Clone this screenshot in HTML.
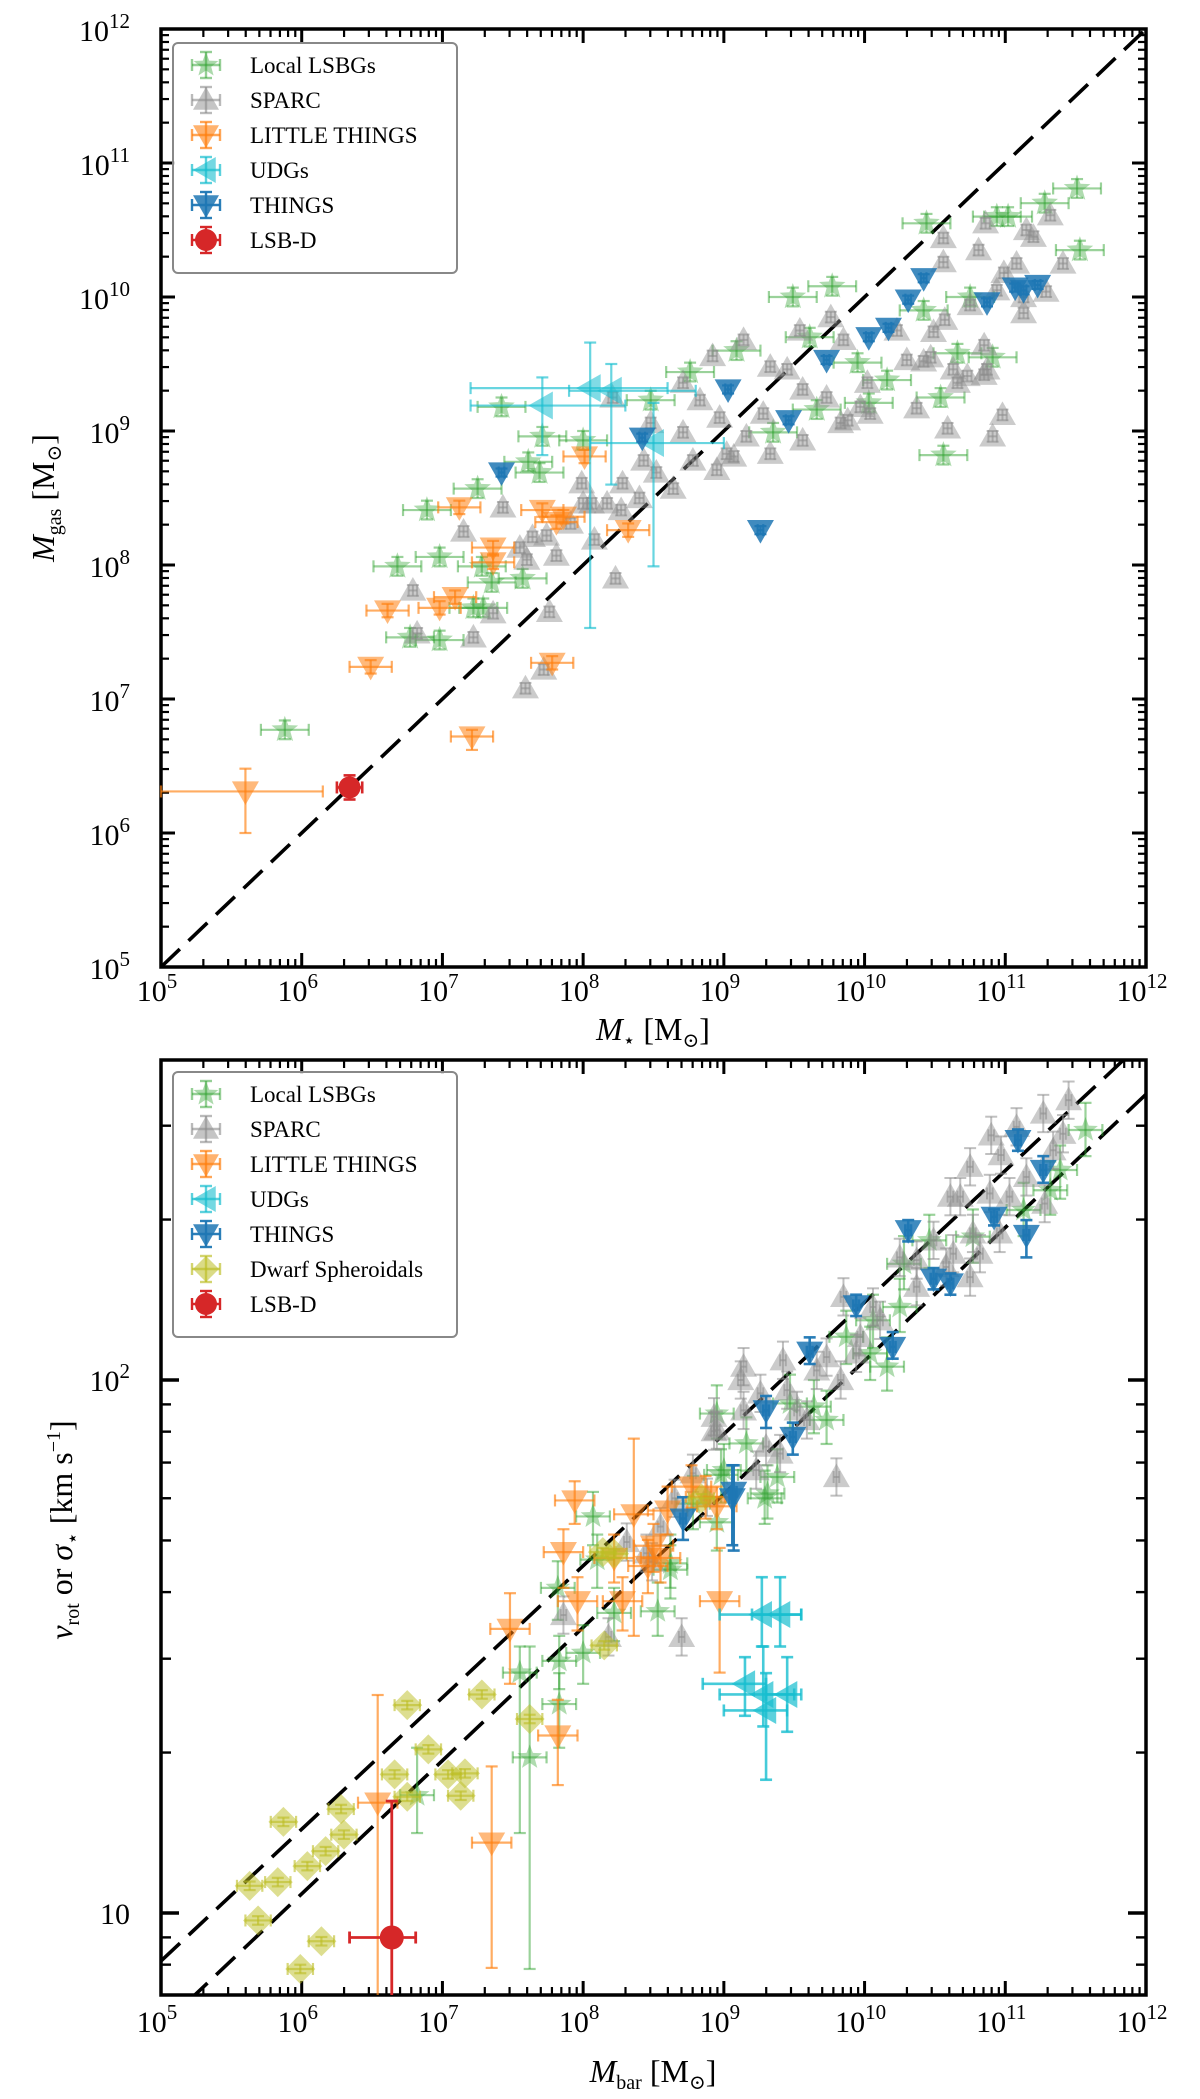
<!DOCTYPE html>
<html><head><meta charset="utf-8"><style>
html,body{margin:0;padding:0;background:#fff;}
svg{display:block;font-family:"Liberation Serif","DejaVu Serif",serif;}
</style></head><body>
<svg id="fig" xmlns="http://www.w3.org/2000/svg" width="1200" height="2099" viewBox="0 0 1200 2099">
<rect x="0" y="0" width="1200" height="2099" fill="#fff"/>
<g id="top"></g>
<g id="bot"></g>
</svg>
<script>
// ===== TOP PANEL DATA (log10 values) =====
const topLsbX=[5.88,6.89,7.25,6.68,6.98,7.28,7.35,7.57,7.22,7.29,6.77,6.98,7.42,7.71,7.61,7.69,8.00,8.48,8.76,9.09,9.49,9.77,10.44,10.94,11.02,11.28,11.51,11.53,10.56,10.16,10.03,9.95,9.66,9.35,10.66,10.91,10.54,10.42,10.75,9.61];
const topLsbY=[6.77,8.41,8.57,7.99,8.06,7.99,7.87,7.90,7.68,7.68,7.46,7.44,9.18,8.96,8.77,8.69,8.93,9.23,9.44,9.60,10.00,10.08,10.55,10.60,10.60,10.70,10.81,10.35,8.82,9.38,9.21,9.51,9.16,8.99,9.58,9.55,9.25,9.90,10.00,9.70];
const topSparcX=[7.59,7.72,7.22,7.36,7.76,6.79,6.82,8.23,7.15,7.43,7.55,7.64,7.74,7.81,7.91,8.08,7.99,8.00,8.06,8.17,8.28,8.27,8.40,8.43,8.48,8.21,7.60,8.64,8.95,9.07,9.33,9.56,9.88,10.04,10.37,10.59,10.91,10.98,11.13,11.29,11.41,11.32,11.20,10.86,10.81,10.56,10.56,10.75,10.57,10.49,10.30,10.42,10.63,10.73,10.87,10.85,10.99,11.08,11.15,10.23,9.97,9.83,9.76,9.54,9.85,9.14,8.92,8.71,8.83,8.71,8.97,9.16,9.33,9.45,9.28,9.02,8.78,8.52,9.56,9.73,10.02,10.47,10.66,10.85,11.13,10.94];
const topSparcY=[7.08,7.22,7.46,7.64,7.65,7.81,7.49,7.90,8.25,8.43,8.13,8.21,8.22,8.07,8.31,8.19,8.61,8.46,8.46,8.46,8.61,8.41,8.50,8.78,9.06,9.25,8.04,8.57,8.71,8.81,8.83,8.93,9.08,9.13,9.17,9.02,8.96,9.12,9.88,10.04,10.25,10.61,10.45,10.55,10.35,10.44,10.26,9.94,9.83,9.74,9.53,9.52,9.46,9.41,9.46,9.64,10.18,10.25,10.50,9.75,9.18,9.06,9.85,9.75,9.68,9.68,9.56,9.36,9.23,8.99,9.10,8.96,9.48,9.46,9.13,8.83,8.78,8.69,9.31,9.25,9.36,9.55,9.36,9.42,10.00,10.05];
const topLtX=[5.60,6.49,6.61,6.98,7.09,7.12,7.36,7.36,7.71,7.86,7.81,8.01,8.32,7.78,7.21];
const topLtY=[6.31,7.24,7.66,7.68,7.76,8.43,8.13,8.02,8.41,8.36,8.32,8.81,8.26,7.27,6.72];
const topLtXlo=[5.00,6.34,6.46,6.83,6.94,6.97,7.21,7.21,7.56,7.71,7.66,7.86,8.17,7.63,7.06];
const topLtXhi=[6.15,6.64,6.76,7.13,7.24,7.27,7.51,7.51,7.86,8.01,7.96,8.16,8.47,7.93,7.36];
const topLtYlo=[6.00,7.19,7.61,7.63,7.71,8.38,8.08,7.97,8.36,8.31,8.27,8.76,8.21,7.22,6.62];
const topLtYhi=[6.48,7.29,7.71,7.73,7.81,8.48,8.18,8.07,8.46,8.41,8.37,8.86,8.31,7.32,6.77];
const topUdgX=[7.71,8.05,8.20,8.50];
const topUdgY=[9.19,9.32,9.30,8.91];
const topUdgXlo=[7.20,7.20,7.90,8.05];
const topUdgXhi=[8.30,8.60,8.80,9.00];
const topUdgYlo=[8.82,7.53,8.60,7.99];
const topUdgYhi=[9.40,9.66,9.50,9.21];
const topThX=[7.42,8.42,9.03,9.46,9.26,9.73,10.03,10.17,10.31,10.42,10.87,11.07,11.13,11.23];
const topThY=[8.69,8.95,9.31,9.08,8.26,9.53,9.70,9.77,9.98,10.14,9.96,10.07,10.05,10.09];
const topLsbdX=[6.34];
const topLsbdY=[6.34];
const topXTicks=[5,6,7,8,9,10,11,12];
const topYTicks=[5,6,7,8,9,10,11,12];
const topTickLabels=["5","6","7","8","9","10","11","12"];

// ===== BOTTOM PANEL DATA (log10 values) =====
const botLsbX=[11.57,11.39,11.32,11.13,10.77,10.28,10.25,10.06,9.87,10.04,10.16,9.73,9.64,9.38,9.31,8.95,9.00,8.62,8.78,9.47,9.16,10.46,8.07,7.82,8.00,7.83,7.83,7.55,7.62,6.82,8.10,8.22,8.53,8.62,8.98,9.29,8.95];
const botLsbY=[2.469,2.394,2.356,2.319,2.269,2.218,2.137,2.112,2.081,2.050,2.025,1.925,1.950,1.818,1.787,1.937,1.831,1.656,1.768,1.956,1.881,2.262,1.744,1.610,1.488,1.473,1.392,1.451,1.292,1.221,1.663,1.563,1.566,1.644,1.822,1.778,1.733];
const botLsbYlo=[2.42,2.34,2.31,2.27,2.22,2.17,2.09,2.06,2.03,2.00,1.98,1.88,1.90,1.77,1.74,1.89,1.78,1.61,1.72,1.91,1.83,2.21,1.69,1.55,1.43,1.42,1.31,1.15,0.895,1.15,1.61,1.51,1.52,1.59,1.77,1.73,1.68];
const botLsbYhi=[2.52,2.44,2.41,2.37,2.32,2.27,2.19,2.16,2.13,2.10,2.08,1.98,2.00,1.87,1.84,1.99,1.88,1.71,1.82,2.01,1.93,2.31,1.79,1.66,1.54,1.52,1.45,1.50,1.50,1.31,1.71,1.61,1.62,1.69,1.87,1.83,1.78];
const botSparcX=[11.45,11.27,11.08,10.90,10.97,10.75,10.61,10.68,10.89,11.03,11.15,11.28,11.34,11.41,10.96,10.77,10.63,10.49,10.37,10.37,10.75,10.82,10.58,9.85,10.06,10.11,9.97,9.73,9.66,9.83,9.14,9.42,9.45,9.26,9.14,8.93,8.95,9.30,9.40,9.23,9.52,9.59,9.80,8.78,8.55,8.45,8.88,9.94,10.25,8.93,8.31,8.49,7.86,8.70,8.18,9.12,8.65];
const botSparcY=[2.525,2.500,2.475,2.459,2.422,2.400,2.344,2.344,2.350,2.344,2.381,2.331,2.431,2.462,2.275,2.275,2.237,2.262,2.225,2.175,2.193,2.237,2.212,2.156,2.137,2.112,2.081,2.043,2.018,2.000,2.025,2.037,1.981,1.975,1.943,1.931,1.906,1.875,1.862,1.831,1.943,1.925,1.818,1.825,1.725,1.675,1.780,2.050,2.230,1.904,1.696,1.659,1.559,1.518,1.518,2.000,1.778];
const botLtX=[6.54,7.35,7.48,7.82,7.86,7.94,7.96,8.22,8.28,8.36,8.50,8.55,8.60,8.77,8.87,8.95,8.97,8.46];
const botLtY=[1.207,1.132,1.533,1.333,1.677,1.774,1.585,1.666,1.585,1.748,1.689,1.666,1.755,1.800,1.781,1.763,1.585,1.651];
const botLtYlo=[0.80,0.897,1.43,1.24,1.61,1.73,1.53,1.62,1.53,1.52,1.64,1.62,1.71,1.76,1.74,1.72,1.451,1.60];
const botLtYhi=[1.409,1.275,1.60,1.40,1.72,1.81,1.63,1.71,1.63,1.89,1.73,1.71,1.80,1.84,1.82,1.80,1.685,1.70];
const botUdgX=[9.27,9.40,9.15,9.28,9.30,9.45];
const botUdgY=[1.56,1.56,1.43,1.41,1.38,1.41];
const botUdgXlo=[8.97,9.20,8.85,8.97,9.00,9.30];
const botUdgXhi=[9.55,9.55,9.30,9.50,9.45,9.55];
const botUdgYlo=[1.50,1.50,1.37,1.35,1.25,1.34];
const botUdgYhi=[1.63,1.63,1.48,1.50,1.45,1.48];
const botThX=[8.71,9.06,9.07,9.49,9.30,9.61,9.94,10.20,10.31,10.49,10.61,10.92,11.15,11.09,11.27];
const botThY=[1.740,1.778,1.790,1.893,1.943,2.053,2.140,2.062,2.281,2.190,2.181,2.306,2.272,2.450,2.394];
const botThYlo=[1.70,1.69,1.68,1.86,1.91,2.03,2.12,2.04,2.26,2.17,2.16,2.29,2.23,2.43,2.37];
const botThYhi=[1.78,1.84,1.84,1.92,1.97,2.08,2.16,2.09,2.30,2.21,2.20,2.32,2.30,2.47,2.42];
const botDsphX=[5.63,5.83,5.69,5.87,5.99,6.14,6.04,6.17,6.30,6.28,6.66,6.75,6.75,6.90,7.04,7.16,7.13,7.28,7.62,8.15,8.14,8.22,8.84];
const botDsphY=[1.051,1.058,0.986,1.171,0.895,0.947,1.088,1.116,1.147,1.195,1.260,1.218,1.390,1.307,1.260,1.262,1.220,1.410,1.364,1.502,1.677,1.674,1.778];
const botLsbdX=[6.64];
const botLsbdY=[0.954];
const botLsbdXlo=[6.34];
const botLsbdXhi=[6.81];
const botLsbdYlo=[0.70];
const botLsbdYhi=[1.21];
const botXTicks=[5,6,7,8,9,10,11,12];
const botYMajor=[1,2];
const botYMajorLabels=["10","10²"];
const btfrUpperX=[5,12];
const btfrUpperY=[0.91,2.64];
const btfrLowerX=[5,12];
const btfrLowerY=[0.786,2.536];

// ===== GEOMETRY =====
const NS="http://www.w3.org/2000/svg";
const X0=161,X1=1146;
const xs=l=>X0+(l-5)*(X1-X0)/7;
const TT=29,TB=967;
const yT=l=>TB-(l-5)*(TB-TT)/7;
const BT=1060,BB=1995;
const yB=l=>1913-(l-1)*533;
const C={green:"#2ca02c",gray:"#8c8c8c",orange:"#ff7f0e",cyan:"#17becf",blue:"#1f77b4",olive:"#bcbd22",red:"#d62728"};

function el(tag,parent,attrs){const e=document.createElementNS(NS,tag);for(const k in attrs)e.setAttribute(k,attrs[k]);parent.appendChild(e);return e;}

function markerPath(type,cx,cy,s){
  if(type==="star"){let p="";for(let i=0;i<10;i++){const r=i%2?s*0.42:s;const a=-Math.PI/2+i*Math.PI/5;p+=(i?"L":"M")+(cx+r*Math.cos(a)).toFixed(1)+","+(cy+r*Math.sin(a)).toFixed(1);}return p+"Z";}
  if(type==="up")return `M${cx},${cy-s}L${cx+s},${cy+s*0.75}L${cx-s},${cy+s*0.75}Z`;
  if(type==="down")return `M${cx},${cy+s}L${cx+s},${cy-s*0.75}L${cx-s},${cy-s*0.75}Z`;
  if(type==="left")return `M${cx-s},${cy}L${cx+s*0.75},${cy-s}L${cx+s*0.75},${cy+s}Z`;
  if(type==="diamond")return `M${cx},${cy-s}L${cx+s},${cy}L${cx},${cy+s}L${cx-s},${cy}Z`;
  return "";
}

function drawPoint(g,type,color,op,size,cx,cy,ex0,ex1,ey0,ey1,elw,cap){
  const pg=el("g",g,{});
  
  
  const st={stroke:color,"stroke-width":elw,"stroke-opacity":Math.min(1,op+0.1)};
  if(ex0!==null&&ex1!==null&&(ex1-ex0)>0.5){el("line",pg,Object.assign({x1:ex0,y1:cy,x2:ex1,y2:cy},st));el("line",pg,Object.assign({x1:ex0,y1:cy-cap,x2:ex0,y2:cy+cap},st));el("line",pg,Object.assign({x1:ex1,y1:cy-cap,x2:ex1,y2:cy+cap},st));}
  if(ey0!==null&&ey1!==null&&Math.abs(ey1-ey0)>0.5){el("line",pg,Object.assign({x1:cx,y1:ey0,x2:cx,y2:ey1},st));el("line",pg,Object.assign({x1:cx-cap,y1:ey0,x2:cx+cap,y2:ey0},st));el("line",pg,Object.assign({x1:cx-cap,y1:ey1,x2:cx+cap,y2:ey1},st));}
  if(type==="circle")el("circle",pg,{cx:cx,cy:cy,r:size,fill:color,"fill-opacity":op});
  else el("path",pg,{d:markerPath(type,cx,cy,size),fill:color,"fill-opacity":op});
}

function series(parent,name,type,color,op,size,X,Y,yf,o){
  const g=el("g",parent,{});
  
  
  for(let i=0;i<X.length;i++){
    const cx=xs(X[i]),cy=yf(Y[i]);
    const xl=o.xlo?o.xlo[i]:X[i]-o.dx, xh=o.xhi?o.xhi[i]:X[i]+o.dx;
    const yl=o.ylo?o.ylo[i]:Y[i]-o.dy, yh=o.yhi?o.yhi[i]:Y[i]+o.dy;
    drawPoint(g,type,color,op,size,cx,cy,xs(Math.max(5,xl)),xs(Math.min(12,xh)),yf(yl),yf(yh),o.lw||2.2,o.cap||6);
  }
}

function axesFrame(g,top,bot,name){
  const r=el("rect",g,{x:X0,y:top,width:X1-X0,height:bot-top,fill:"none",stroke:"#000","stroke-width":3.5});
  
  
}
function xTicks(g,top,bot,ticks,labelY,nameP){
  for(const d of ticks){
    const x=xs(d);
    el("line",g,{x1:x,y1:bot,x2:x,y2:bot-14,stroke:"#000","stroke-width":3});
    el("line",g,{x1:x,y1:top,x2:x,y2:top+14,stroke:"#000","stroke-width":3});
    const t=el("text",g,{x:x-4,y:labelY,"font-size":30,"text-anchor":"middle"});
    
    
    t.textContent="10";
    const s=el("tspan",t,{dy:-13,"font-size":21});s.textContent=String(d);
    if(d<12)for(let m=2;m<10;m++){const xm=xs(d+Math.log10(m));
      el("line",g,{x1:xm,y1:bot,x2:xm,y2:bot-8,stroke:"#000","stroke-width":2.2});
      el("line",g,{x1:xm,y1:top,x2:xm,y2:top+8,stroke:"#000","stroke-width":2.2});}
  }
}

// ===== TOP PANEL =====
const T=document.getElementById("top");
axesFrame(T,TT,TB,"top-plot-area");
xTicks(T,TT,TB,topXTicks,1001,"x-axis");
for(let i=0;i<topYTicks.length;i++){
  const d=topYTicks[i],y=yT(d);
  el("line",T,{x1:X0,y1:y,x2:X0+14,y2:y,stroke:"#000","stroke-width":3});
  el("line",T,{x1:X1,y1:y,x2:X1-14,y2:y,stroke:"#000","stroke-width":3});
  const t=el("text",T,{x:130,y:y+12,"font-size":30,"text-anchor":"end"});
  
  
  t.textContent="10";
  const s=el("tspan",t,{dy:-13,"font-size":21});s.textContent=topTickLabels[i];
  if(d<12)for(let m=2;m<10;m++){const ym=yT(d+Math.log10(m));
    el("line",T,{x1:X0,y1:ym,x2:X0+8,y2:ym,stroke:"#000","stroke-width":2.2});
    el("line",T,{x1:X1,y1:ym,x2:X1-8,y2:ym,stroke:"#000","stroke-width":2.2});}
}
const oneToOne=el("line",T,{x1:xs(5),y1:yT(5),x2:xs(12),y2:yT(12),stroke:"#000","stroke-width":3.6,"stroke-dasharray":"26,12"});


series(T,"local-lsbgs-series","star",C.green,0.38,14,topLsbX,topLsbY,yT,{dx:0.17,dy:0.07});
series(T,"sparc-series","up",C.gray,0.45,13.5,topSparcX,topSparcY,yT,{dx:0.03,dy:0.04,lw:2});
series(T,"little-things-series","down",C.orange,0.55,13.5,topLtX,topLtY,yT,{xlo:topLtXlo,xhi:topLtXhi,ylo:topLtYlo,yhi:topLtYhi});
series(T,"udgs-series","left",C.cyan,0.55,14,topUdgX,topUdgY,yT,{xlo:topUdgXlo,xhi:topUdgXhi,ylo:topUdgYlo,yhi:topUdgYhi});
series(T,"things-series","down",C.blue,0.85,13.5,topThX,topThY,yT,{dx:0.02,dy:0.03});
series(T,"lsb-d-series","circle",C.red,1,11,topLsbdX,topLsbdY,yT,{dx:0.09,dy:0.09,lw:2.6});

function legend(g,x,y,items,name){
  const h=items.length*35+20;
  const lg=el("g",g,{});
  
  
  el("rect",lg,{x:x,y:y,width:284,height:h,rx:5,fill:"#fff","fill-opacity":0.85,stroke:"#888","stroke-width":2});
  items.forEach((it,i)=>{
    const cy=y+22+i*35,cx=x+33;
    const eg=el("g",lg,{});
    
    
    drawPoint(eg,it[1],it[2],it[3],it[1]==="circle"?11:13,cx,cy,cx-14,cx+14,cy-13,cy+13,2.4,6);
    const t=el("text",eg,{x:x+77,y:cy+8,"font-size":23});t.textContent=it[0];
  });
}
legend(T,173,43,[["Local LSBGs","star",C.green,0.4],["SPARC","up",C.gray,0.5],["LITTLE THINGS","down",C.orange,0.6],["UDGs","left",C.cyan,0.6],["THINGS","down",C.blue,0.85],["LSB-D","circle",C.red,1]],"top-legend");

let tt=el("text",T,{x:653,y:1040,"font-size":32,"text-anchor":"middle"});


tt.innerHTML='<tspan font-style="italic">M</tspan><tspan font-size="20" dy="7">⋆</tspan><tspan dy="-7"> [M</tspan><tspan font-size="20" dy="7">⊙</tspan><tspan dy="-7">]</tspan>';
tt=el("text",T,{x:0,y:0,"font-size":32,"text-anchor":"middle",transform:"translate(54,498) rotate(-90)"});


tt.innerHTML='<tspan font-style="italic">M</tspan><tspan font-size="20" dy="7">gas</tspan><tspan dy="-7"> [M</tspan><tspan font-size="20" dy="7">⊙</tspan><tspan dy="-7">]</tspan>';

// ===== BOTTOM PANEL =====
const B=document.getElementById("bot");
const clip=el("clipPath",B,{id:"bclip"});el("rect",clip,{x:X0,y:BT,width:X1-X0,height:BB-BT});
axesFrame(B,BT,BB,"bottom-plot-area");
xTicks(B,BT,BB,botXTicks,2032,"bottom-x-axis");
for(let d=0;d<=2;d++){for(let m=1;m<10;m++){const l=d+Math.log10(m);const y=yB(l);if(y<BT+2||y>BB-2)continue;
  const len=m===1?18:10,w=m===1?3.4:2.4;
  el("line",B,{x1:X0,y1:y,x2:X0+len,y2:y,stroke:"#000","stroke-width":w});
  el("line",B,{x1:X1,y1:y,x2:X1-len,y2:y,stroke:"#000","stroke-width":w});}}
for(let i=0;i<botYMajor.length;i++){
  const y=yB(botYMajor[i]);
  const t=el("text",B,{x:130,y:y+11,"font-size":30,"text-anchor":"end"});
  
  
  t.textContent="10";
  if(i===1){const s=el("tspan",t,{dy:-13,"font-size":21});s.textContent="2";}
}
const pg=el("g",B,{"clip-path":"url(#bclip)"});
const lu=el("line",pg,{x1:xs(btfrUpperX[0]),y1:yB(btfrUpperY[0]),x2:xs(btfrUpperX[1]),y2:yB(btfrUpperY[1]),stroke:"#000","stroke-width":3.6,"stroke-dasharray":"26,12"});


const ll=el("line",pg,{x1:xs(btfrLowerX[0]),y1:yB(btfrLowerY[0]),x2:xs(btfrLowerX[1]),y2:yB(btfrLowerY[1]),stroke:"#000","stroke-width":3.6,"stroke-dasharray":"26,12"});


series(pg,"local-lsbgs-series","star",C.green,0.38,13,botLsbX,botLsbY,yB,{dx:0.12,ylo:botLsbYlo,yhi:botLsbYhi});
series(pg,"sparc-series","up",C.gray,0.45,13.5,botSparcX,botSparcY,yB,{dx:0.02,dy:0.035,lw:2});
series(pg,"little-things-series","down",C.orange,0.55,13.5,botLtX,botLtY,yB,{dx:0.14,ylo:botLtYlo,yhi:botLtYhi});
series(pg,"udgs-series","left",C.cyan,0.7,13.5,botUdgX,botUdgY,yB,{xlo:botUdgXlo,xhi:botUdgXhi,ylo:botUdgYlo,yhi:botUdgYhi,lw:2.6});
series(pg,"things-series","down",C.blue,0.85,13.5,botThX,botThY,yB,{dx:0.02,ylo:botThYlo,yhi:botThYhi,lw:2.6});
series(pg,"dwarf-spheroidals-series","diamond",C.olive,0.5,15,botDsphX,botDsphY,yB,{dx:0.09,dy:0.008});
series(pg,"lsb-d-series","circle",C.red,1,12,botLsbdX,botLsbdY,yB,{xlo:botLsbdXlo,xhi:botLsbdXhi,ylo:botLsbdYlo,yhi:botLsbdYhi,lw:2.8});
legend(B,173,1072,[["Local LSBGs","star",C.green,0.4],["SPARC","up",C.gray,0.5],["LITTLE THINGS","down",C.orange,0.6],["UDGs","left",C.cyan,0.6],["THINGS","down",C.blue,0.85],["Dwarf Spheroidals","diamond",C.olive,0.55],["LSB-D","circle",C.red,1]],"bottom-legend");

tt=el("text",B,{x:653,y:2082,"font-size":32,"text-anchor":"middle"});


tt.innerHTML='<tspan font-style="italic">M</tspan><tspan font-size="20" dy="7">bar</tspan><tspan dy="-7"> [M</tspan><tspan font-size="20" dy="7">⊙</tspan><tspan dy="-7">]</tspan>';
tt=el("text",B,{x:0,y:0,"font-size":32,"text-anchor":"middle",transform:"translate(72,1530) rotate(-90)"});


tt.innerHTML='<tspan font-style="italic">v</tspan><tspan font-size="20" dy="7">rot</tspan><tspan dy="-7"> or </tspan><tspan font-style="italic">σ</tspan><tspan font-size="20" dy="7">⋆</tspan><tspan dy="-7"> [km s</tspan><tspan font-size="20" dy="-12">−1</tspan><tspan dy="12">]</tspan>';
</script>
</body></html>
